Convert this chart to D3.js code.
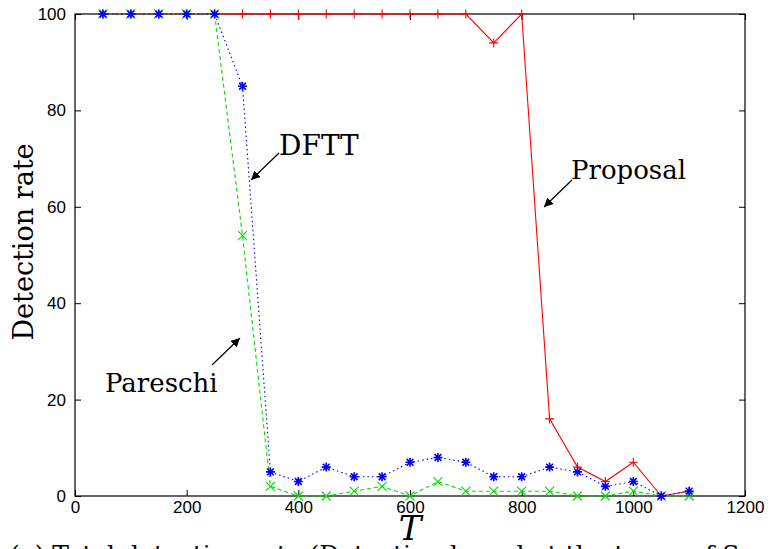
<!DOCTYPE html>
<html>
<head>
<meta charset="utf-8">
<script src="https://cdn.jsdelivr.net/npm/d3@7/dist/d3.min.js"></script>
<style>
  body { margin: 0; background: #fff; }
</style>
</head>
<body>
<div id="chart"></div>
<script>
var tValues = [50, 100, 150, 200, 250, 300, 350, 400, 450, 500, 550, 600,
               650, 700, 750, 800, 850, 900, 950, 1000, 1050, 1100];
var proposal = [100, 100, 100, 100, 100, 100, 100, 100, 100, 100, 100, 100,
                100, 100, 94, 100, 16, 6, 3, 7, 0, 1];
var dftt     = [100, 100, 100, 100, 100, 85, 5, 3, 6, 4, 4, 7,
                8, 7, 4, 4, 6, 5, 2, 3, 0, 1];
var pareschi = [100, 100, 100, 100, 100, 54, 2, 0, 0, 1, 2, 0,
                3, 1, 1, 1, 1, 0, 0, 1, 0, 0];
var xTicks = [0, 200, 400, 600, 800, 1000, 1200];
var yTicks = [0, 20, 40, 60, 80, 100];

var SERIF = "DejaVu Serif";
var SANS = "Liberation Sans";

function init() {
    var w = 771, h = 549;
    var left = 75, right = 745, top = 14, bottom = 496;

    var svg = d3.select("#chart").append("svg")
        .attr("width", w)
        .attr("height", h);

    var x = d3.scaleLinear().domain([0, 1200]).range([left, right]);
    var y = d3.scaleLinear().domain([0, 100]).range([bottom, top]);
    var fmt = d3.format("d");

    // axes, ticks inward and mirrored like gnuplot
    svg.append("g")
        .attr("transform", `translate(0,${bottom})`)
        .call(d3.axisBottom(x).tickValues(xTicks).tickSize(-6).tickPadding(5).tickFormat(fmt))
        .call(g => g.select(".domain").remove());
    svg.append("g")
        .attr("transform", `translate(0,${top})`)
        .call(d3.axisTop(x).tickValues(xTicks).tickSize(-6).tickFormat(""))
        .call(g => g.select(".domain").remove());
    svg.append("g")
        .attr("transform", `translate(${left},0)`)
        .call(d3.axisLeft(y).tickValues(yTicks).tickSize(-6).tickPadding(9).tickFormat(fmt))
        .call(g => g.select(".domain").remove());
    svg.append("g")
        .attr("transform", `translate(${right},0)`)
        .call(d3.axisRight(y).tickValues(yTicks).tickSize(-6).tickFormat(""))
        .call(g => g.select(".domain").remove());
    svg.selectAll(".tick line").attr("stroke", "#000");
    svg.selectAll(".tick text")
        .attr("font-family", SANS)
        .attr("font-size", "17px")
        .attr("fill", "#000");

    svg.append("rect")
        .attr("x", left).attr("y", top)
        .attr("width", right - left).attr("height", bottom - top)
        .attr("fill", "none").attr("stroke", "#000").attr("stroke-width", 1.2);

    var line = d3.line().x(d => x(d[0])).y(d => y(d[1]));

    var series = [
        { name: "Proposal", vals: proposal, color: "#ff0000", dash: null, mark: "plus" },
        { name: "Pareschi", vals: pareschi, color: "#00dd00", dash: "4,3", mark: "cross" },
        { name: "DFTT", vals: dftt, color: "#0000ff", dash: "1.5,3", mark: "star" }
    ];

    series.forEach(function (s) {
        var pts = tValues.map((t, i) => [t, s.vals[i]]);
        svg.append("path")
            .datum(pts)
            .attr("d", line)
            .attr("fill", "none")
            .attr("stroke", s.color)
            .attr("stroke-width", 1.1)
            .attr("stroke-dasharray", s.dash);

        var r = 4.5;
        var shape;
        if (s.mark === "plus") shape = `M${-r},0H${r}M0,${-r}V${r}`;
        else if (s.mark === "cross") shape = `M${-r},${-r}L${r},${r}M${-r},${r}L${r},${-r}`;
        else shape = `M${-r},0H${r}M0,${-r}V${r}M${-r*0.75},${-r*0.75}L${r*0.75},${r*0.75}M${-r*0.75},${r*0.75}L${r*0.75},${-r*0.75}`;

        svg.append("g").selectAll("path")
            .data(pts)
            .join("path")
            .attr("transform", d => `translate(${x(d[0])},${y(d[1])})`)
            .attr("d", shape)
            .attr("stroke", s.color)
            .attr("stroke-width", s.mark === "star" ? 1.6 : 1.1)
            .attr("fill", "none");
    });

    // arrow marker
    svg.append("defs").append("marker")
        .attr("id", "arrow")
        .attr("viewBox", "0 0 10 10")
        .attr("refX", 10).attr("refY", 5)
        .attr("markerWidth", 9).attr("markerHeight", 9)
        .attr("markerUnits", "userSpaceOnUse")
        .attr("orient", "auto")
        .append("path")
        .attr("d", "M0,0L10,5L0,10z")
        .attr("fill", "#000");

    var notes = [
        { text: "DFTT", tx: 279, ty: 155, x1: 279, y1: 153, x2: 251, y2: 180, fs: 28 },
        { text: "Proposal", tx: 571, ty: 179, x1: 572, y1: 180, x2: 544, y2: 207, fs: 26 },
        { text: "Pareschi", tx: 105, ty: 392, x1: 212, y1: 365, x2: 240, y2: 338, fs: 26 }
    ];
    notes.forEach(function (n) {
        svg.append("line")
            .attr("x1", n.x1).attr("y1", n.y1)
            .attr("x2", n.x2).attr("y2", n.y2)
            .attr("stroke", "#000").attr("stroke-width", 1.2)
            .attr("marker-end", "url(#arrow)");
        svg.append("text")
            .attr("font-family", SERIF)
            .attr("x", n.tx).attr("y", n.ty)
            .attr("font-size", n.fs + "px")
            .text(n.text);
    });

    // axis titles
    svg.append("text")
        .attr("font-family", SERIF)
        .attr("transform", "rotate(-90)")
        .attr("x", -242)
        .attr("y", 33)
        .attr("text-anchor", "middle")
        .attr("font-size", "27px")
        .text("Detection rate");

    svg.append("text")
        .attr("font-family", SERIF)
        .attr("x", 410)
        .attr("y", 540)
        .attr("text-anchor", "middle")
        .attr("font-size", "34px")
        .attr("font-style", "italic")
        .text("T");

    // caption, cut at bottom edge
    svg.append("text")
        .attr("font-family", SERIF)
        .attr("x", 10)
        .attr("y", 563)
        .attr("font-size", "25px")
        .text("(a) Total detection rate (Detection based at the types of Segments");
}

window.onload = init;
</script>
</body>
</html>
